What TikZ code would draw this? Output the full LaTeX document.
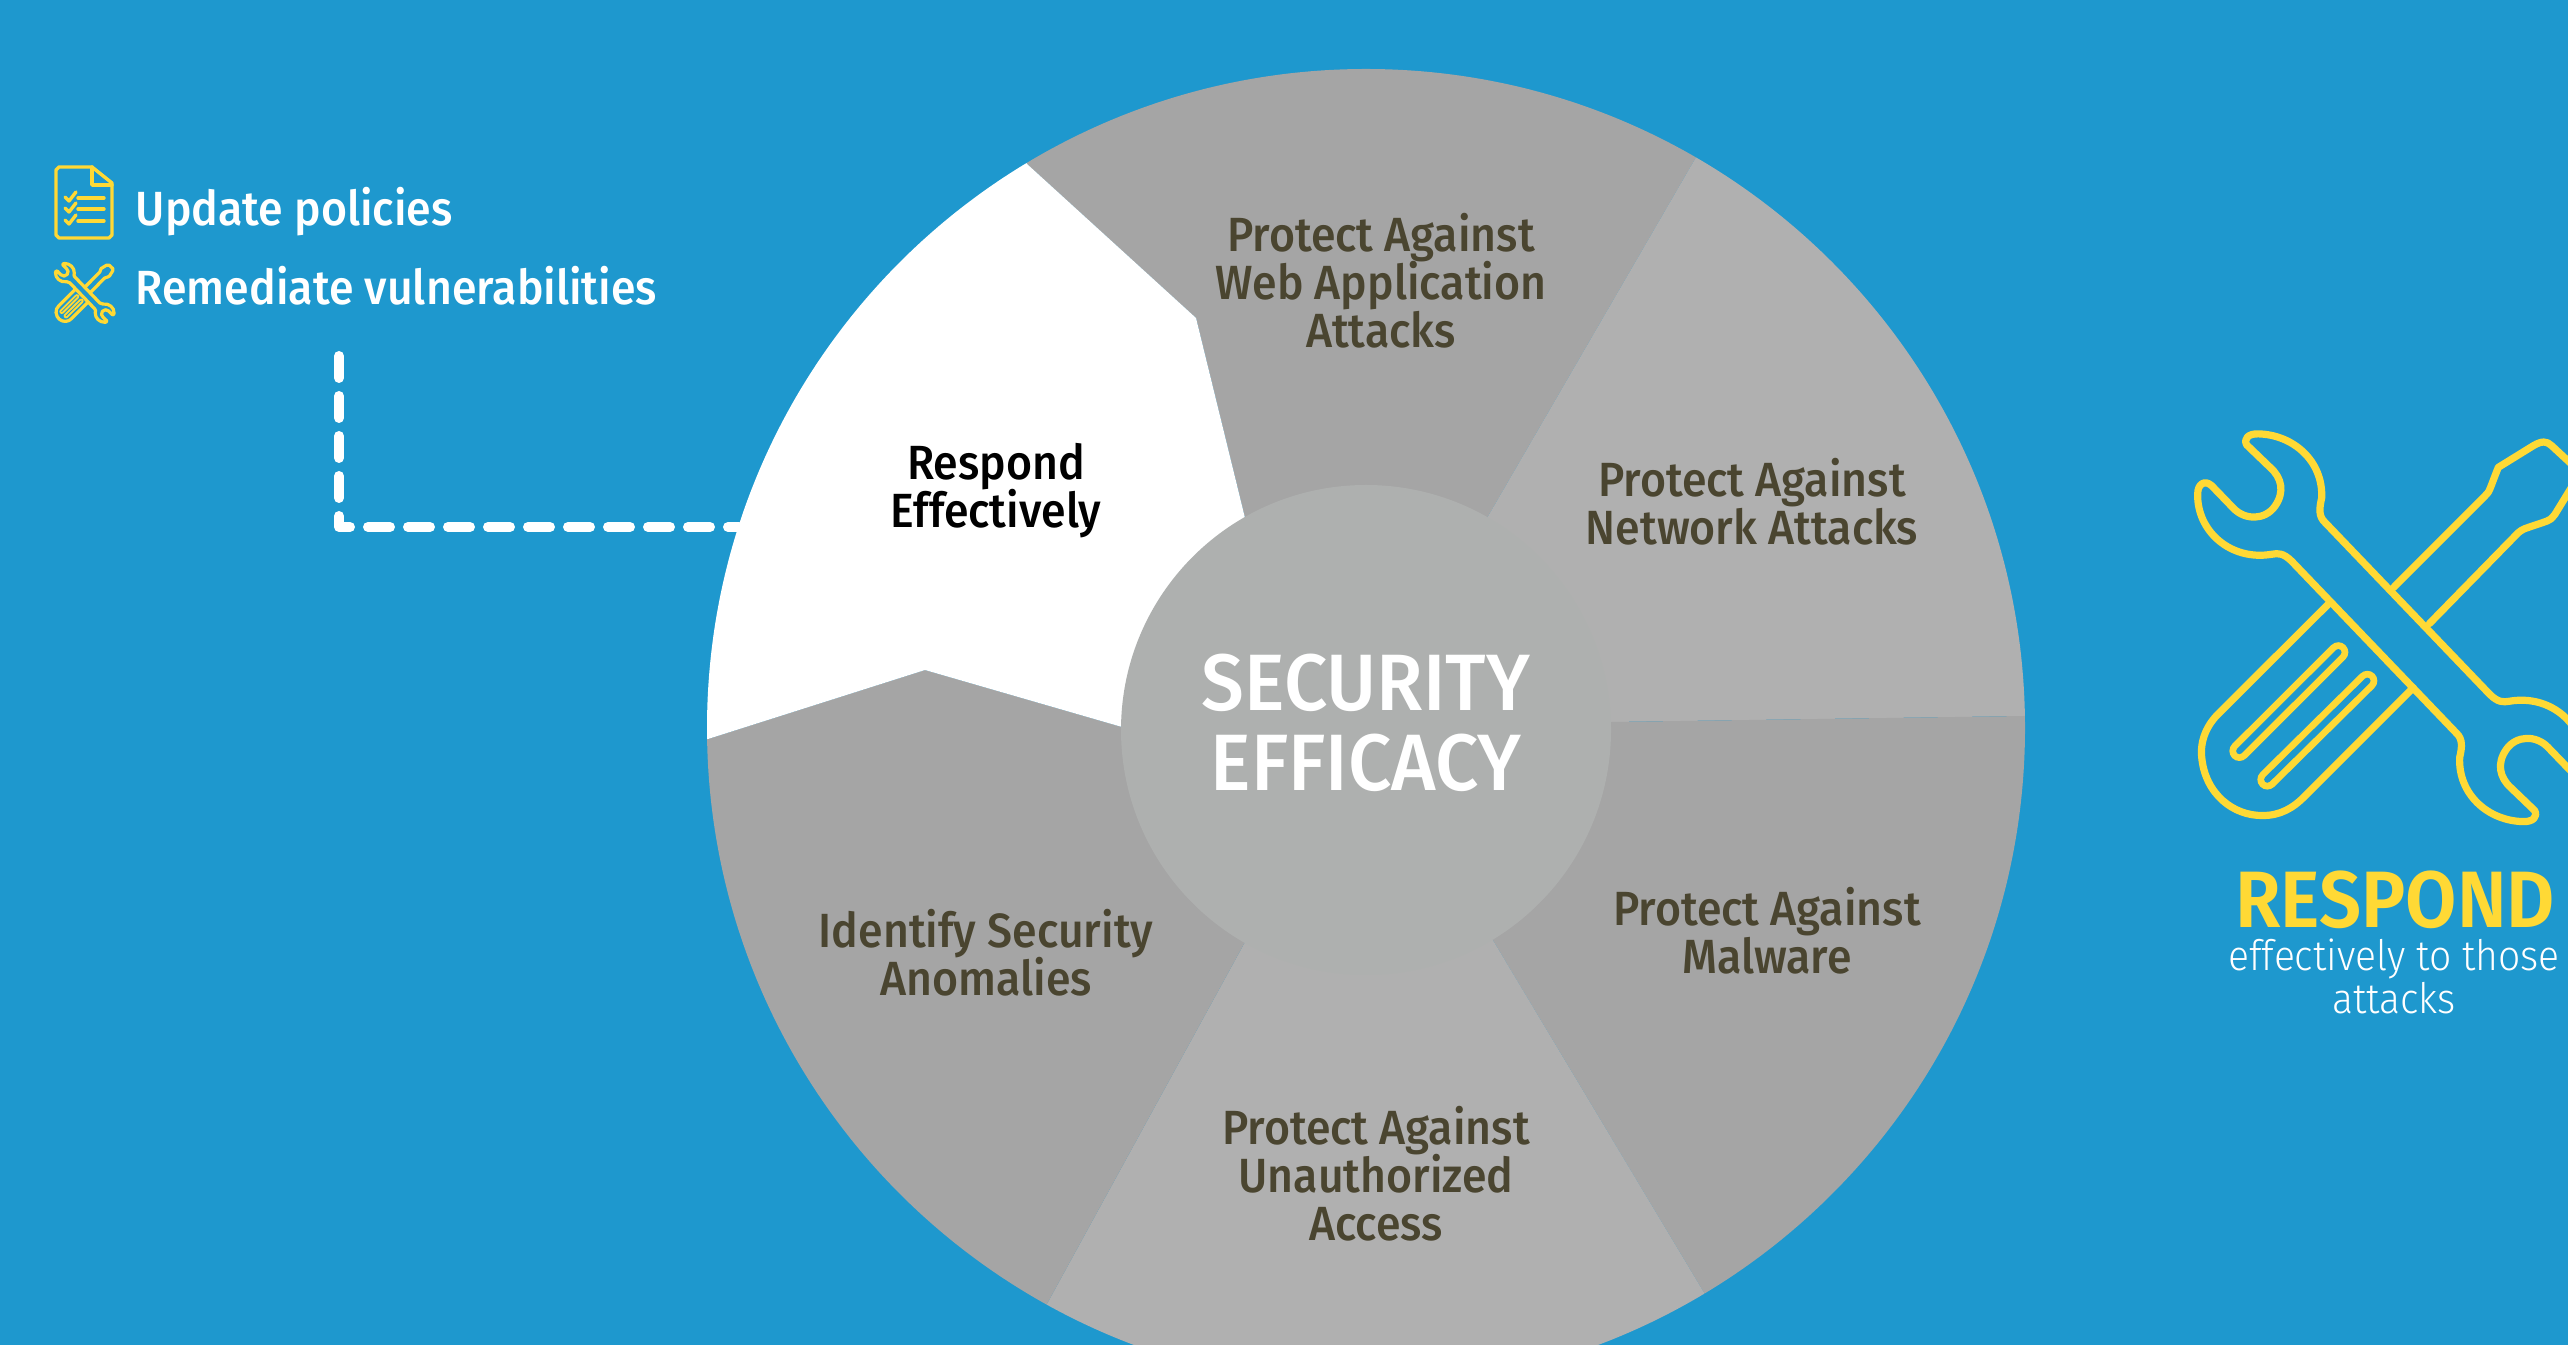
\documentclass[tikz,border=0pt]{standalone}
\usepackage{fontspec}
\setmainfont{Fira Sans}
\newfontfamily\tfhub[FakeStretch=0.955]{Fira Sans Medium}
\newfontfamily\tfthin[FakeStretch=0.93]{Fira Sans Light}
\newfontfamily\tfbold[FakeStretch=0.93]{Fira Sans Medium}
\newfontfamily\tfhead[FakeStretch=0.93]{Fira Sans SemiBold}
\setlength{\lineskiplimit}{-100pt}
\definecolor{bgblue}{HTML}{1E98CE}
\definecolor{wdark}{HTML}{A5A5A5}
\definecolor{wlight}{HTML}{B0B0B0}
\definecolor{hub}{HTML}{AEB0AF}
\definecolor{olive}{HTML}{4A4530}
\definecolor{tyellow}{HTML}{FFD935}
\tikzset{
  wedgedark/.style={fill=wdark},
  wedgelight/.style={fill=wlight},
  wlabel/.style={font=\tfbold\fontsize{12}{12}\selectfont,text=olive,align=center,inner sep=0pt},
  itemtext/.style={font=\tfbold\fontsize{12}{12}\selectfont,text=white,anchor=base west,inner sep=0pt},
  hubtext/.style={font=\tfhub\fontsize{20}{20}\selectfont,text=white,anchor=base,inner sep=0pt},
  iconline/.style={draw=tyellow,line cap=round,line join=round},
  dashline/.style={draw=white,line width=2.5pt,line cap=round,line join=round,dash pattern=on 5.5pt off 4.5pt}
}
\newcommand{\toolsicon}[7]{%
\begin{scope}[shift={(#1,#2)},x=#3pt,y=-#4pt,iconline,line width=#5pt]
 \draw (425,395) .. controls (400,375) and (385,375) .. (365,378)
  .. controls (240,395) and (140,320) .. (143,230)
  .. controls (143,205) and (165,195) .. (185,210) -- (250,265)
  .. controls (285,295) and (345,295) .. (375,260)
  .. controls (405,225) and (395,190) .. (360,165) -- (290,110)
  .. controls (280,95) and (295,82) .. (325,83)
  .. controls (430,85) and (520,150) .. (515,240)
  .. controls (508,265) and (505,285) .. (525,300) -- (1019,721)
  .. controls (1044,741) and (1059,741) .. (1079,738)
  .. controls (1204,721) and (1304,796) .. (1301,886)
  .. controls (1301,911) and (1279,921) .. (1259,906) -- (1194,851)
  .. controls (1159,821) and (1099,821) .. (1069,856)
  .. controls (1039,891) and (1049,926) .. (1084,951) -- (1154,1006)
  .. controls (1164,1021) and (1149,1034) .. (1119,1033)
  .. controls (1014,1031) and (924,966) .. (929,876)
  .. controls (936,851) and (939,831) .. (919,816) -- cycle;
 \draw (535,500) -- (210,765) .. controls (170,795) and (150,835) .. (155,875)
  .. controls (165,965) and (250,1020) .. (340,1018)
  .. controls (390,1018) and (430,1000) .. (465,970) -- (790,705);
 \draw (730,460) -- (1005,235) .. controls (1020,225) and (1020,215) .. (1045,165)
  -- (1150,112) .. controls (1175,100) and (1190,100) .. (1205,112) -- (1275,165)
  .. controls (1285,175) and (1285,190) .. (1275,200) -- (1215,280)
  .. controls (1205,290) and (1200,295) .. (1190,297) -- (1125,315)
  .. controls (1115,318) and (1110,322) .. (1105,325) -- (838,548);
 \draw[line width=#6pt] (268,860) -- (565,618);
 \draw[line width=#6pt] (352,930) -- (652,688);
 \draw[draw=bgblue,line width=#7pt] (268,860) -- (565,618);
 \draw[draw=bgblue,line width=#7pt] (352,930) -- (652,688);
\end{scope}}
\begin{document}
\begin{tikzpicture}[x=0.25pt,y=-0.25pt]
\path[use as bounding box] (0,0) rectangle (2568,1345);
\clip (0,0) rectangle (2568,1345);
\fill[bgblue] (0,0) rectangle (2568,1345);
\coordinate (c) at (1366,729);
\coordinate (wc) at (1366,728);
% wheel
\begin{scope}
 \clip (wc) circle [radius=659];
 \fill[wedgedark] (857,-118) -- (1027,164) -- (1196,318) -- (1245,518) -- (c) -- (1487,518) -- (1695,159) -- (1860,-126) -- cycle;
 \fill[wedgelight] (1860,-126) -- (1695,159) -- (1487,518) -- (c) -- (1612,722) -- (2024,716) -- (2353,710) -- (2353,-126) -- cycle;
 \fill[wedgedark] (2353,710) -- (2024,716) -- (1612,722) -- (c) -- (1494,942) -- (1703,1291) -- (1871,1572) -- (2353,1572) -- cycle;
 \fill[wedgelight] (1871,1572) -- (1703,1291) -- (1494,942) -- (c) -- (1245,942) -- (1048,1302) -- (889,1589) -- cycle;
 \fill[wedgedark] (889,1589) -- (1048,1302) -- (1245,942) -- (c) -- (1122,727) -- (925,670) -- (708,739) -- (379,744) -- (379,1589) -- cycle;
 \fill[white] (857,-118) -- (1027,164) -- (1196,318) -- (1245,518) -- (c) -- (1122,727) -- (925,670) -- (708,739) -- (379,744) -- (379,-118) -- cycle;
\end{scope}
\node[circle,fill=hub,minimum size=122.5pt,inner sep=0pt] (hubdisc) at (1366,730) {};
\node[hubtext] (hublabel) at (1366,711) {SECURITY};
\node[hubtext] (hublabelb) at (1366,791) {EFFICACY};
\node[wlabel] (web) at (1381,281) {Protect Against\\Web Application\\Attacks};
\node[wlabel] (net) at (1752,502) {Protect Against\\Network Attacks};
\node[wlabel] (mal) at (1767,931) {Protect Against\\Malware};
\node[wlabel] (una) at (1376,1174) {Protect Against\\Unauthorized\\Access};
\node[wlabel] (ano) at (986,953) {Identify Security\\Anomalies};
\node[wlabel,text=black] (res) at (996,491) {Respond\\Effectively};
% connector
\coordinate (dashstart) at (339,356);
\coordinate (dashcorner) at (339,527);
\coordinate (dashend) at (739,527);
\draw[dashline] (dashstart) -- (dashcorner) -- (dashend);
% items
\node[itemtext] (upd) at (135,226) {Update policies};
\node[itemtext] (rem) at (135,305) {Remediate vulnerabilities};
% document icon
\begin{scope}[iconline,line width=0.85pt]
 \draw (92,167) -- (59,167) -- (56,170) -- (56,235) -- (59,238) -- (109,238) -- (112,235) -- (112,183) -- cycle;
 \draw (92,167) -- (92,185) -- (112,185);
 \draw (65,197) -- (69,201) -- (76,192);
 \draw (65,208) -- (69,212) -- (76,203);
 \draw (65,220) -- (69,224) -- (76,215);
 \draw (78,198) -- (104,198);
 \draw (78,209) -- (104,209);
 \draw (78,221) -- (104,221);
\end{scope}
% tool icons
\toolsicon{48.2}{258.3}{0.012667}{0.01551}{0.8}{1.2}{0.2}
\toolsicon{2150}{400}{0.083333}{0.10204}{1.8}{5}{1.6}
% respond
\node[font=\tfhead\fontsize{20}{20}\selectfont,text=tyellow,anchor=base,inner sep=0pt] (respond) at (2395,928) {RESPOND};
\node[font=\tfthin\fontsize{10.5}{10.75}\selectfont,text=white,anchor=base,inner sep=0pt] (eff) at (2394,971) {effectively to those};
\node[font=\tfthin\fontsize{10.5}{10.75}\selectfont,text=white,anchor=base,inner sep=0pt] (att) at (2394,1014) {attacks};
\end{tikzpicture}
\end{document}
